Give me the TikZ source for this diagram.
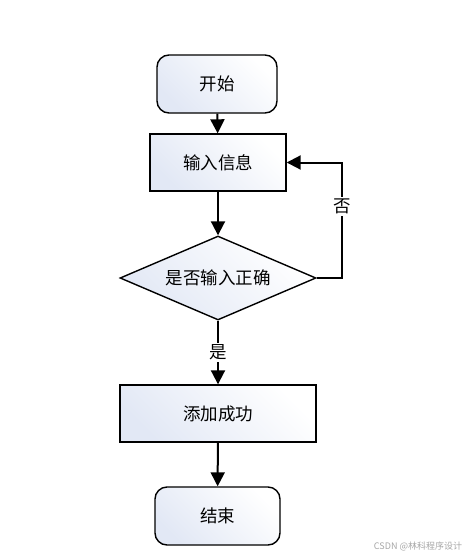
\documentclass[tikz,border=0pt]{standalone}
\usepackage{fontspec}
\setmainfont{Noto Sans CJK SC}
\usetikzlibrary{arrows.meta,shapes.geometric}
\definecolor{boxtint}{HTML}{E2E8F5}
\begin{document}
\begin{tikzpicture}[x=1pt,y=-1pt,
  base/.style={draw=black,line width=1.4pt,left color=boxtint,right color=white,shading angle=135,
    font=\fontsize{17.5}{19}\selectfont,inner sep=0pt},
  term/.style={base,rounded corners=12pt,minimum width=120pt,minimum height=58pt},
  procbox/.style={base,minimum height=57pt},
  decide/.style={base,diamond,minimum width=196pt,minimum height=84pt,aspect=2.33},
  conn/.style={line width=2pt,-{Triangle[length=14pt,width=14pt]}},
  lbl/.style={fill=white,font=\fontsize{17.5}{19}\selectfont,inner sep=2pt}]
\useasboundingbox (0,0) rectangle (475,557);
\node[term] (start) at (217,84) {开始};
\node[procbox,minimum width=136pt] (input) at (218,162.5) {输入信息};
\node[decide] (check) at (218,278) {是否输入正确};
\node[procbox,minimum width=196pt] (add) at (218,413.5) {添加成功};
\node[term,minimum width=125pt] (end) at (217.5,516) {结束};
\coordinate (loopA) at (342,278);
\coordinate (loopB) at (342,162.5);
\draw[conn] (start) -- (input);
\draw[conn] (input) -- (check);
\draw[conn] (check) -- node[lbl] {是} (add);
\draw[conn] (add) -- (end);
\draw[conn] (check.east) -- (loopA) -- node[lbl,pos=0.62] {否} (loopB) -- (input.east);
\node[text=gray!70,font=\fontsize{9}{10}\selectfont] (wm) at (418,546) {CSDN @林科程序设计};
\end{tikzpicture}
\end{document}
